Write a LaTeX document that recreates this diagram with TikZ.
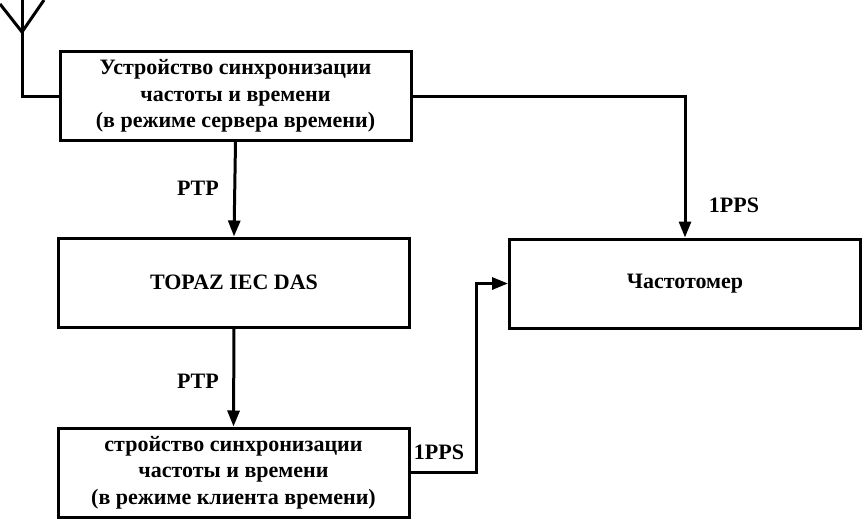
\documentclass[tikz,border=0pt]{standalone}
\usepackage{fontspec}
\setmainfont{Liberation Serif}
\usetikzlibrary{arrows.meta}
\begin{document}
\begin{tikzpicture}[x=1pt,y=-1pt,
  box/.style={draw,line width=3pt,minimum width=351pt,minimum height=89pt,inner sep=0pt,align=center,
    font=\fontsize{22}{26.5}\selectfont\bfseries},
  lbl/.style={font=\fontsize{22}{25}\selectfont\bfseries,inner sep=0pt},
  wire/.style={line width=3pt},
  arr/.style={wire,-{Triangle[length=16pt,width=12pt]}}]
\useasboundingbox (0,0) rectangle (864,520);
\node[box] (srv) at (235.5,96) {Устройство синхронизации\\частоты и времени\\(в режиме сервера времени)};
\node[box] (das) at (234,282.5) {TOPAZ IEC DAS};
\node[box] (cli) at (233.5,472.5) {стройство синхронизации\\частоты и времени\\(в режиме клиента времени)};
\node[box] (frq) at (685,283.5) {Частотомер};
\node[lbl] (l1) at (198,188) {PTP};
\node[lbl] (l2) at (198,381) {PTP};
\node[lbl] (l3) at (734,205) {1PPS};
\node[lbl] (l4) at (439,452) {1PPS};
% antenna
\coordinate (antt) at (22,0);
\coordinate (apex) at (22,32);
\coordinate (al) at (0,4);
\coordinate (ar) at (44,0);
\draw[wire] (al) -- (apex) -- (ar);
\draw[wire] (antt) |- (srv.west);
% connectors
\draw[arr] (srv.south) -- (das.north);
\draw[arr] (das.south) -- (cli.north);
\draw[arr] (srv.east) -| (frq.north);
\coordinate (bend) at (476,0);
\draw[arr] (cli.east) -| (bend |- frq.west) -- (frq.west);
\end{tikzpicture}
\end{document}
